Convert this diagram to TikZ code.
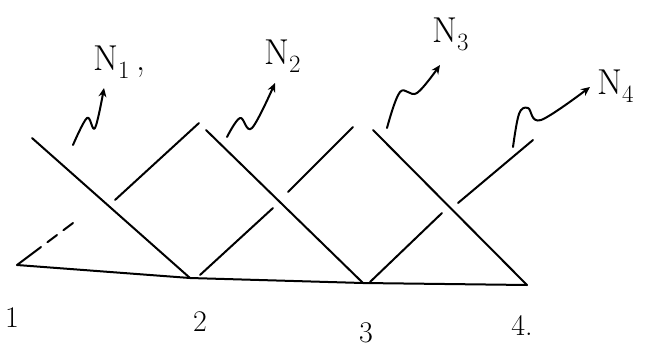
\documentclass[tikz,border=0pt]{standalone}
\usetikzlibrary{arrows.meta}
\begin{document}
\begin{tikzpicture}[x=1pt,y=-1pt,
  stroke/.style={line width=2pt,line cap=round,line join=round},
  wave/.style={stroke,-{Stealth[length=9pt,width=8pt]}},
  lbl/.style={font=\fontsize{36}{38}\selectfont,inner sep=0pt},
  num/.style={font=\fontsize{30}{32}\selectfont,inner sep=0pt}]
\useasboundingbox (0,0) rectangle (655,351);
% baseline points
\coordinate (p1) at (17,265);
\coordinate (p2) at (190,278);
\coordinate (p3) at (363,283);
\coordinate (p4) at (527,285);
\draw[stroke] (p1) -- (p2) -- (p3) -- (p4);
% descending lines
\coordinate (a0) at (32,138);
\coordinate (b0) at (206,130);
\coordinate (c0) at (373,130);
\draw[stroke] (a0) -- (p2);
\draw[stroke] (b0) -- (p3);
\draw[stroke] (c0) -- (p4);
% ascending lines (with gaps at crossings)
\coordinate (d1) at (73,223);
\coordinate (d2) at (115,200);
\coordinate (d3) at (199,123);
\draw[stroke,dash pattern=on 30pt off 8pt on 12pt off 8pt] (p1) -- (d1);
\draw[stroke] (d2) -- (d3);
\coordinate (e0) at (200,275);
\coordinate (e1) at (273,208);
\coordinate (e2) at (288,192);
\coordinate (e3) at (353,127);
\draw[stroke] (e0) -- (e1);
\draw[stroke] (e2) -- (e3);
\coordinate (f0) at (370,282);
\coordinate (f1) at (442,213);
\coordinate (f2) at (458,203);
\coordinate (f3) at (533,140);
\draw[stroke] (f0) -- (f1);
\draw[stroke] (f2) -- (f3);
% wavy emission arrows
\draw[wave] plot[smooth,tension=0.6] coordinates {(73,145) (87,118) (95,128) (104,88)};
\draw[wave] plot[smooth,tension=0.6] coordinates {(227,137) (240,118) (252,128) (275,83)};
\draw[wave] plot[smooth,tension=0.6] coordinates {(387,128) (400,92) (417,93) (440,65)};
\draw[wave] plot[smooth,tension=0.6] coordinates {(513,147) (519,114) (528,108) (541,120) (590,87)};
% labels
\node[lbl,anchor=west] (n1) at (93,62) {N$_1$\,,};
\node[lbl,anchor=west] (n2) at (264,56) {N$_2$};
\node[lbl,anchor=west] (n3) at (432,34) {N$_3$};
\node[lbl,anchor=west] (n4) at (597,86) {N$_4$};
\node[num] (l1) at (12,318) {1};
\node[num] (l2) at (200,322) {2};
\node[num] (l3) at (366,333) {3};
\node[num] (l4) at (522,325) {4.};
\end{tikzpicture}
\end{document}
